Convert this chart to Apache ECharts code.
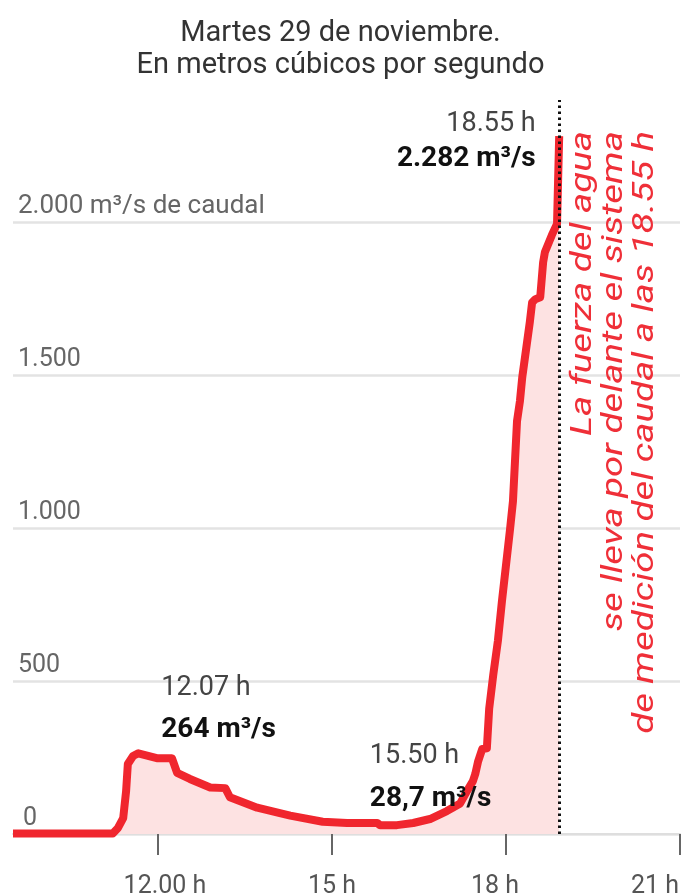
<!DOCTYPE html>
<html>
<head>
<meta charset="utf-8">
<script src="https://cdn.jsdelivr.net/npm/echarts@6/dist/echarts.min.js"></script>
<style>
html,body{margin:0;padding:0;background:#fff;}
#c{width:681px;height:894px;}
</style>
</head>
<body>
<div id="c"></div>
<script>
// Hours (decimal) and flow in m³/s
const times = [9.5, 11.22, 11.31, 11.40, 11.45, 11.48, 11.57, 11.66, 11.98, 12.24, 12.33, 12.55, 12.90, 13.16, 13.24, 13.71, 14.28, 14.84, 15.26, 15.78, 15.83, 16.12, 16.40, 16.69, 16.98, 17.21, 17.33, 17.43, 17.47, 17.52, 17.59, 17.67, 17.71, 17.78, 17.86, 17.93, 18.07, 18.12, 18.19, 18.24, 18.28, 18.41, 18.45, 18.50, 18.59, 18.64, 18.67, 18.79, 18.88, 18.90, 18.917];
const values = [2, 2, 20, 52, 140, 229, 255, 264, 248, 248, 200, 180, 152, 150, 120, 86, 60, 40, 36, 36, 28.7, 29, 36, 49, 75, 100, 141, 173, 196, 238, 278, 280, 410, 520, 631, 761, 997, 1088, 1350, 1415, 1493, 1673, 1738, 1748, 1755, 1869, 1902, 1958, 1995, 2150, 2282];

const cutTime = 18.917; // 18.55 h
const xTickValues = [12, 15, 18, 21];
const xTickLabels = ['12.00 h', '15 h', '18 h', '21 h'];
const yTickLabels = ['0', '500', '1.000', '1.500', '2.000 m³/s de caudal'];

const annoTimes = [18.917, 12.117, 15.833];
const annoValues = [2282, 264, 28.7];
const annoTimeLabels = ['18.55 h', '12.07 h', '15.50 h'];
const annoValueLabels = ['2.282 m³/s', '264 m³/s', '28,7 m³/s'];

const titleLines = ['Martes 29 de noviembre.', 'En metros cúbicos por segundo'];
const noteLines = ['La fuerza del agua', 'se lleva por delante el sistema', 'de medición del caudal a las 18.55 h'];

const FONT = 'Roboto, "Noto Sans", sans-serif';
const RED = '#f0262e';

const annoLayout = [
  {align: 'right', offset: [-23, 6], lh: 34},
  {align: 'left', offset: [-3, -44], lh: 42},
  {align: 'left', offset: [-10, -47], lh: 43}
];

const markData = annoTimes.map((t, i) => ({
  coord: [t, annoValues[i]],
  symbol: 'circle',
  symbolSize: 1,
  itemStyle: {color: 'rgba(0,0,0,0)'},
  label: {
    show: true,
    position: [0, 0],
    align: annoLayout[i].align,
    verticalAlign: 'middle',
    offset: annoLayout[i].offset,
    formatter: '{t|' + annoTimeLabels[i] + '}\n{v|' + annoValueLabels[i] + '}',
    rich: {
      t: {fontSize: 27, color: '#444', fontFamily: FONT, lineHeight: annoLayout[i].lh, align: annoLayout[i].align},
      v: {fontSize: 28, fontWeight: 'bold', color: '#111', fontFamily: FONT, lineHeight: annoLayout[i].lh, align: annoLayout[i].align}
    }
  }
}));

const xRich = {
  l0: {fontSize: 25, color: '#555', fontFamily: FONT, padding: [0, 0, 0, 14]},
  l1: {fontSize: 25, color: '#555', fontFamily: FONT},
  l2: {fontSize: 25, color: '#555', fontFamily: FONT, padding: [0, 22, 0, 0]},
  l3: {fontSize: 25, color: '#555', fontFamily: FONT, padding: [0, 50, 0, 0]}
};

const chart = echarts.init(document.getElementById('c'));
chart.setOption({
  animation: false,
  backgroundColor: '#fff',
  title: {
    text: titleLines.join('\n'),
    left: 'center',
    top: 13,
    textStyle: {fontSize: 29, fontWeight: 'normal', color: '#333', lineHeight: 32, fontFamily: FONT}
  },
  grid: {left: 13, right: 1, top: 100, bottom: 60, containLabel: false, outerBoundsMode: 'none'},
  xAxis: {
    type: 'value',
    min: 9.5,
    max: 21,
    axisLine: {show: true, lineStyle: {color: '#dedede', width: 2}},
    axisTick: {show: true, customValues: xTickValues, length: 21, lineStyle: {color: '#666', width: 2}},
    axisLabel: {
      show: true,
      customValues: xTickValues,
      margin: 40,
      formatter: function (v) {
        let i = xTickValues.findIndex(x => Math.abs(x - v) < 1e-6);
        if (i < 0) return '';
        return '{l' + i + '|' + xTickLabels[i] + '}';
      },
      rich: xRich
    },
    splitLine: {show: false}
  },
  yAxis: {
    type: 'value',
    min: 0,
    max: 2400,
    interval: 500,
    axisLine: {show: false},
    axisTick: {show: false},
    axisLabel: {
      inside: true,
      margin: 5,
      verticalAlign: 'bottom',
      showMaxLabel: false,
      fontSize: 25,
      color: '#666',
      fontFamily: FONT,
      padding: [0, 0, 3, 0],
      formatter: function (v) {
        const i = Math.round(v / 500);
        if (i === 0) return '{z|' + yTickLabels[0] + '}';
        if (i === 4) return '{w|' + yTickLabels[4] + '}';
        return yTickLabels[i] || '';
      },
      rich: {
        z: {fontSize: 25, color: '#666', fontFamily: FONT, padding: [0, 0, 0, 5]},
        w: {fontSize: 26, color: '#666', fontFamily: FONT}
      }
    },
    splitLine: {show: true, showMaxLine: false, lineStyle: {color: '#e3e3e3', width: 2.5}}
  },
  series: [{
    type: 'line',
    data: times.map((t, i) => [t, values[i]]),
    showSymbol: false,
    symbol: 'none',
    smooth: false,
    lineStyle: {color: RED, width: 8, join: 'round', cap: 'butt'},
    areaStyle: {color: '#fde2e2', opacity: 1},
    z: 3,
    markLine: {
      silent: true,
      symbol: ['none', 'none'],
      label: {show: false},
      lineStyle: {color: '#111', width: 3, type: [2.5, 3.5], cap: 'butt'},
      data: [[{coord: [cutTime, 0]}, {coord: [cutTime, 2400]}]],
      z: 10
    },
    markPoint: {
      silent: true,
      data: markData,
      z: 11
    }
  }],
  graphic: [{
    type: 'text',
    x: 567.5,
    y: 131,
    rotation: Math.PI / 2,
    scaleX: 1.28,
    scaleY: 1,
    z: 20,
    style: {
      text: noteLines.join('\n'),
      fill: '#ef2f38',
      fontSize: 30,
      fontStyle: 'italic',
      fontFamily: FONT,
      lineHeight: 31,
      align: 'right',
      verticalAlign: 'top'
    }
  }]
});
</script>
</body>
</html>
